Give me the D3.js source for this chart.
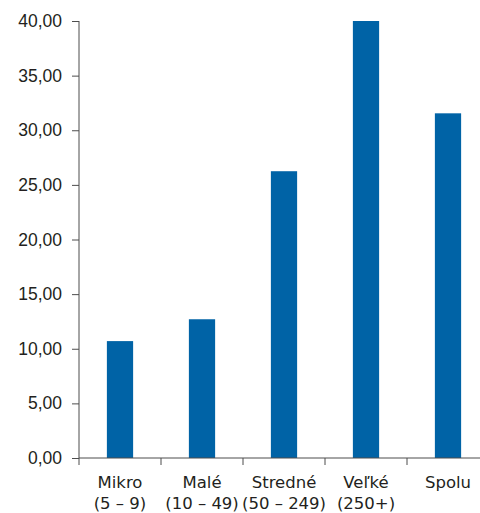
<!DOCTYPE html>
<html>
<head>
<meta charset="utf-8">
<script src="https://cdn.jsdelivr.net/npm/d3@7"></script>
<style>
  body { margin: 0; background: #fff; }
  svg { display: block; font-family: "DejaVu Sans", sans-serif; }
  .tick text { fill: #231f20; font-size: 17.5px; }
  .domain, .tick line { stroke: #4d4d4d; }
</style>
</head>
<body>
<svg class="js-render-chart" width="480" height="513"></svg>
<script>
"use strict";

//data

const categories = ["Mikro", "Malé", "Stredné", "Veľké", "Spolu"];
const subLabels = ["(5 – 9)", "(10 – 49)", "(50 – 249)", "(250+)", ""];
const values = [10.7, 12.7, 26.25, 40.0, 31.55];
const yTicks = [0, 5, 10, 15, 20, 25, 30, 35, 40];

//layout

const m = { t: 21, l: 79, b: 55 };
const h = 513 - m.t - m.b;
const band = 82;

const svg = d3.select(".js-render-chart");

const x = d3.scaleBand()
  .domain(categories)
  .range([m.l, m.l + band * categories.length])
  .paddingInner(0.68)
  .paddingOuter(0.34);

const y = d3.scaleLinear()
  .domain([0, 40])
  .range([m.t + h, m.t]);

//bars

svg.append("g")
  .selectAll("rect")
  .data(values)
  .join("rect")
  .attr("x", (d, i) => x(categories[i]))
  .attr("y", d => y(d))
  .attr("width", x.bandwidth())
  .attr("height", d => y(0) - y(d))
  .attr("fill", "#0063a6");

//y axis

const fmt = d => d3.format(".2f")(d).replace(".", ",");

svg.append("g")
  .attr("transform", `translate(${m.l}, 0)`)
  .call(d3.axisLeft(y).tickValues(yTicks).tickFormat(fmt).tickSize(7).tickPadding(10).tickSizeOuter(0))
  .call(g => g.select(".domain").attr("d", `M0,${y(40)}V${y(0)}`));

//x axis

const xAxis = svg.append("g")
  .attr("transform", `translate(0, ${y(0)})`);

xAxis.append("line")
  .attr("x1", m.l)
  .attr("x2", 480)
  .attr("stroke", "#4d4d4d");

xAxis.selectAll(".edge")
  .data(d3.range(categories.length + 1))
  .join("line")
  .attr("class", "edge")
  .attr("x1", i => m.l + i * band)
  .attr("x2", i => m.l + i * band)
  .attr("y1", 0)
  .attr("y2", 7)
  .attr("stroke", "#4d4d4d");

const labels = xAxis.selectAll(".lbl")
  .data(categories)
  .join("text")
  .attr("class", "lbl")
  .attr("text-anchor", "middle")
  .attr("fill", "#231f20")
  .attr("font-size", 16.5)
  .attr("transform", d => `translate(${x(d) + x.bandwidth() / 2}, 0)`);

labels.append("tspan")
  .attr("x", 0)
  .attr("y", 30)
  .text(d => d);

labels.append("tspan")
  .attr("x", 0)
  .attr("y", 51)
  .text((d, i) => subLabels[i]);

</script>
</body>
</html>
